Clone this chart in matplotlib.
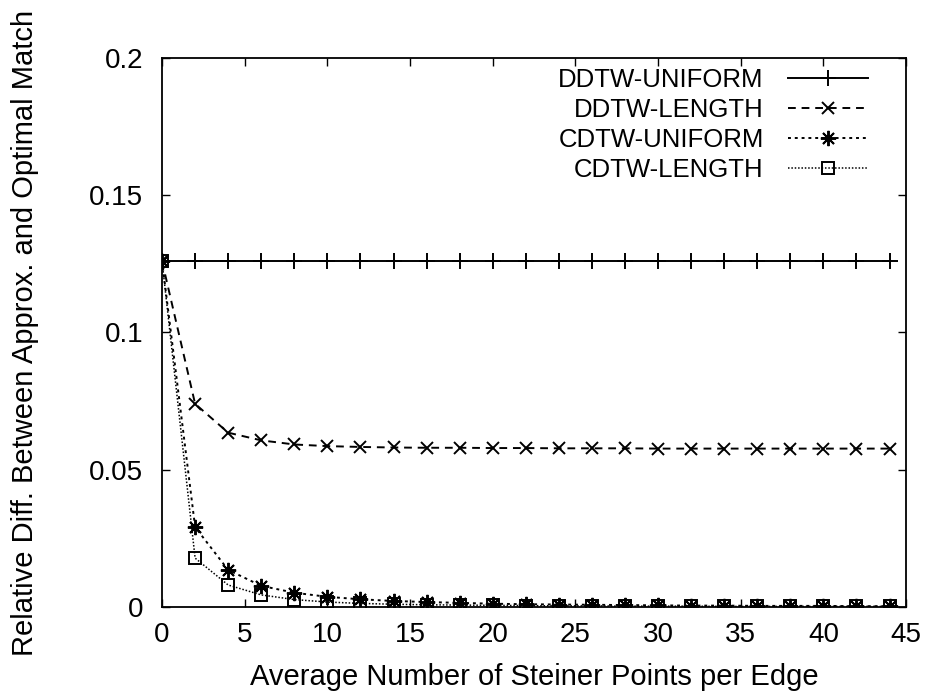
import matplotlib
matplotlib.use("Agg")
import matplotlib.pyplot as plt

plt.rcParams['font.family'] = ['Liberation Sans', 'DejaVu Sans']

x = [0, 2, 4, 6, 8, 10, 12, 14, 16, 18, 20, 22, 24, 26, 28, 30, 32, 34, 36, 38, 40, 42, 44]
ddtw_uniform = [0.126] * 23
ddtw_length = [0.126, 0.0740, 0.0635, 0.0607, 0.0592, 0.0586, 0.0583, 0.0581, 0.0580, 0.0580,
               0.0579, 0.0579, 0.0578, 0.0578, 0.0578, 0.0577, 0.0577, 0.0577, 0.0577, 0.0577,
               0.0577, 0.0577, 0.0577]
cdtw_uniform = [0.126, 0.0291, 0.0135, 0.0077, 0.0052, 0.0037, 0.0028, 0.0022, 0.0018, 0.0015,
                0.0012, 0.0010, 0.0009, 0.0008, 0.0007, 0.0006, 0.0005, 0.0005, 0.0004, 0.0004,
                0.0004, 0.0003, 0.0003]
cdtw_length = [0.126, 0.0178, 0.0080, 0.0044, 0.0027, 0.0018, 0.0013, 0.0010, 0.0008, 0.0007,
               0.0006, 0.0005, 0.0004, 0.0004, 0.0003, 0.0003, 0.0003, 0.0002, 0.0002, 0.0002,
               0.0002, 0.0002, 0.0002]

labels = ['DDTW-UNIFORM', 'DDTW-LENGTH', 'CDTW-UNIFORM', 'CDTW-LENGTH']
xticks = [0, 5, 10, 15, 20, 25, 30, 35, 40, 45]
yticks = [0, 0.05, 0.1, 0.15, 0.2]
yticklabels = ['0', '0.05', '0.1', '0.15', '0.2']

fig = plt.figure(figsize=(9.27, 6.96), dpi=100)
ax = fig.add_axes([0.1748, 0.1279, 0.8026, 0.7888])

ax.plot(x, ddtw_uniform, color='black', lw=1.4, ls='-', marker='+', ms=11, mew=1.4, label=labels[0])
ax.plot(x, ddtw_length, color='black', lw=1.4, ls=(0, (4, 3)), marker='x', ms=9, mew=1.4, label=labels[1])
ax.plot(x, cdtw_uniform, color='black', lw=1.4, ls=(0, (1.5, 2)), marker=(8, 2, 0), ms=11, mew=1.4, label=labels[2])
ax.plot(x, cdtw_length, color='black', lw=1.1, ls=(0, (1, 1.2)), marker='s', ms=9, mew=1.4,
        mfc='none', label=labels[3])

ax.set_xlim(0, 45)
ax.set_ylim(0, 0.2)
ax.set_xticks(xticks)
ax.set_yticks(yticks)
ax.set_yticklabels(yticklabels)
ax.tick_params(direction='in', top=True, right=True, length=6, width=1, labelsize=20)
ax.tick_params(axis='y', pad=13.5)
ax.tick_params(axis='x', pad=11)
for s in ax.spines.values():
    s.set_linewidth(1.3)

ax.set_xlabel('Average Number of Steiner Points per Edge', fontsize=21)
ax.set_ylabel('Relative Diff. Between Approx. and Optimal Match', fontsize=21)
ax.xaxis.set_label_coords(0.5, -0.102)
ax.yaxis.set_label_coords(-0.1653, 0.5)

leg = ax.legend(loc='upper right', frameon=False, markerfirst=False,
                prop={'family': 'Liberation Sans', 'size': 18.5},
                handlelength=3.15, handletextpad=0.93, labelspacing=0.23,
                borderaxespad=0, borderpad=0, bbox_to_anchor=(0.9495, 0.981))

fig.savefig('out.png', dpi=100)
